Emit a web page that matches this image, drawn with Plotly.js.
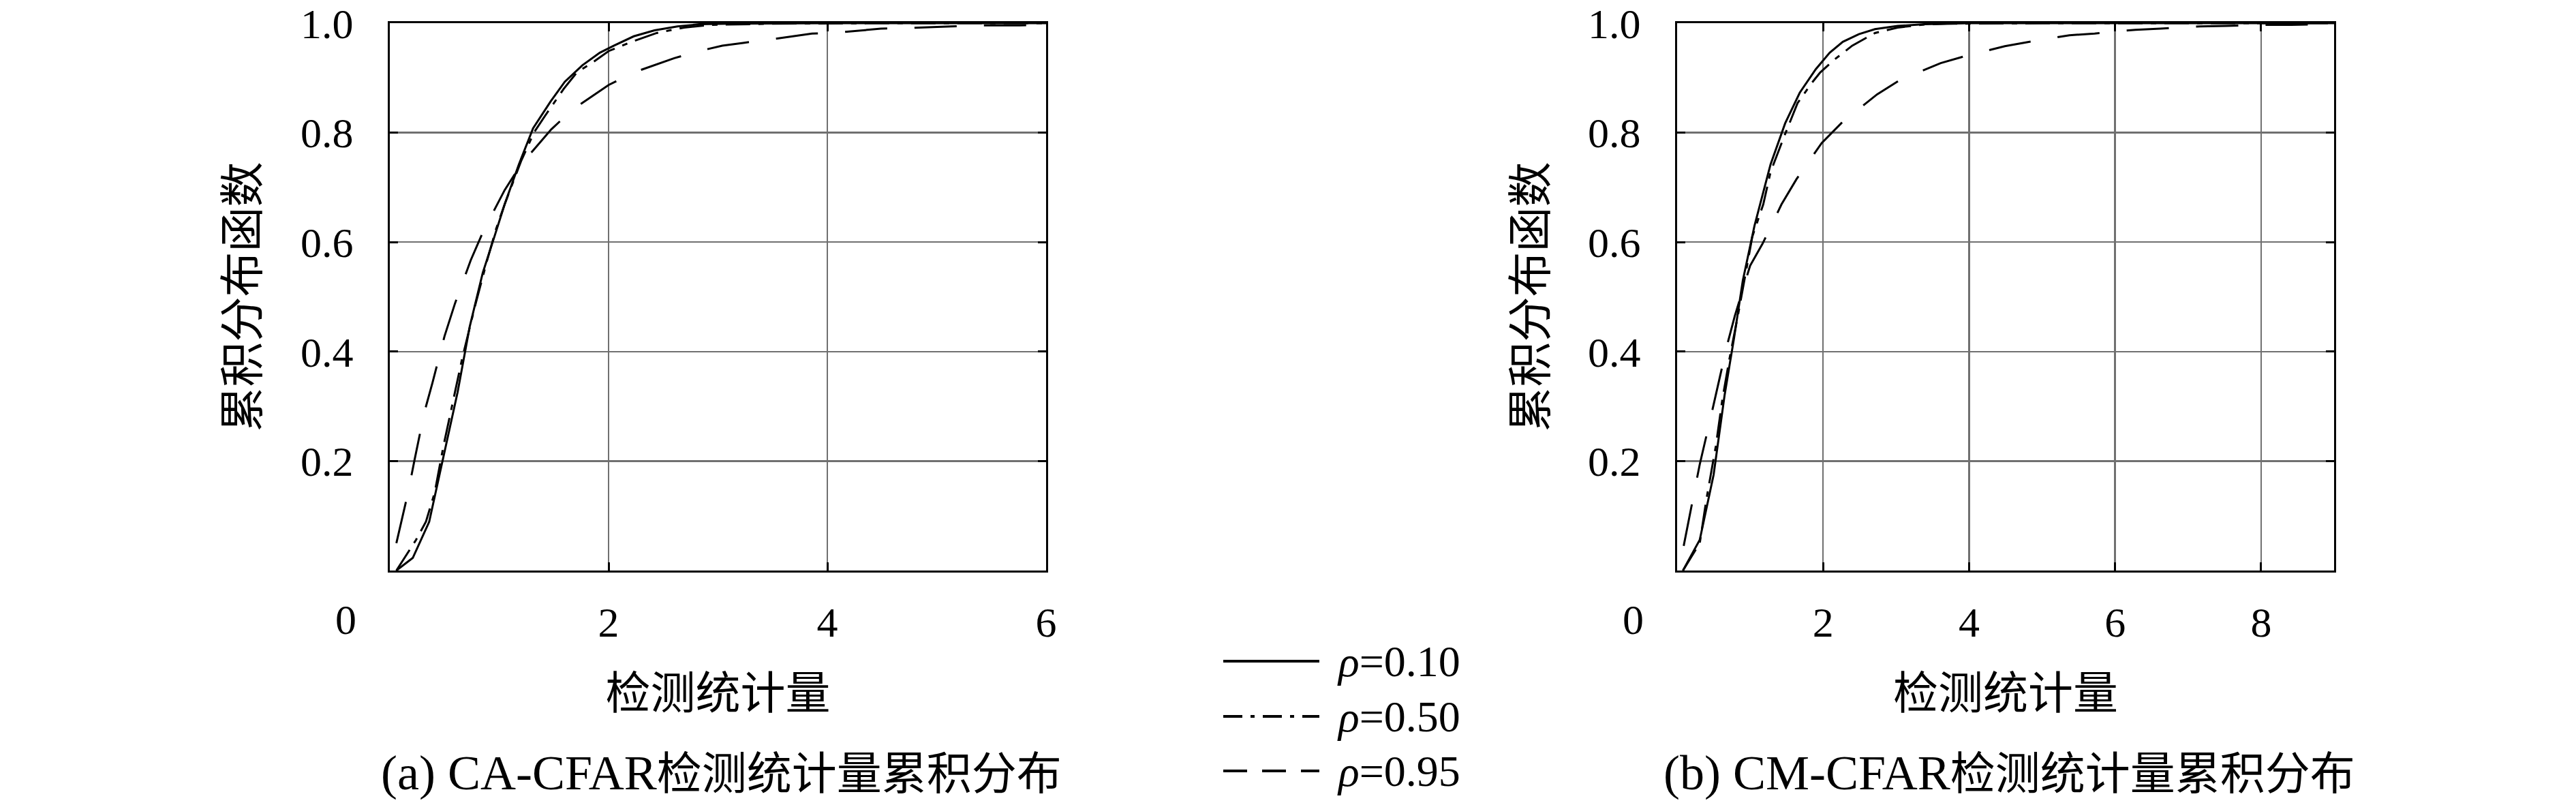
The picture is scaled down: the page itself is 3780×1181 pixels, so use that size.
<!DOCTYPE html>
<html>
<head>
<meta charset="utf-8">
<script src="https://cdn.plot.ly/plotly-3.0.1.min.js"></script>
<style>html,body{margin:0;padding:0;background:#fff;}#chart{width:3780px;height:1181px;}</style>
</head>
<body>
<div id="chart"></div>
<script>
// ---- Data ----
const seriesNames = ["ρ=0.10", "ρ=0.50", "ρ=0.95"];

// (a) CA-CFAR
const caX010 = [0.06, 0.21, 0.36, 0.48, 0.62, 0.73, 0.85, 0.95, 1.05, 1.18, 1.31, 1.47, 1.60, 1.76, 1.92, 2.05, 2.23, 2.42, 2.63, 2.83, 3.1, 4.0, 5.0, 6.0];
const caY010 = [0.0, 0.023, 0.089, 0.198, 0.326, 0.445, 0.544, 0.606, 0.669, 0.742, 0.808, 0.857, 0.893, 0.923, 0.946, 0.959, 0.976, 0.987, 0.994, 0.998, 0.999, 1.0, 1.0, 1.0];
const caX050 = [0.06, 0.24, 0.33, 0.41, 0.49, 0.555, 0.66, 0.78, 0.886, 0.97, 1.05, 1.20, 1.32, 1.42, 1.59, 1.71, 1.86, 2.0, 2.21, 2.44, 2.69, 2.94, 3.5, 4.5, 6.0];
const caY050 = [0.0, 0.056, 0.089, 0.142, 0.227, 0.287, 0.386, 0.484, 0.564, 0.623, 0.669, 0.748, 0.801, 0.831, 0.88, 0.91, 0.929, 0.949, 0.966, 0.982, 0.992, 0.997, 0.999, 1.0, 1.0];
const caX095 = [0.06, 0.17, 0.224, 0.317, 0.39, 0.50, 0.596, 0.74, 0.855, 1.05, 1.20, 1.476, 1.67, 2.0, 2.23, 2.60, 2.83, 3.04, 3.23, 3.47, 3.86, 4.10, 4.49, 4.73, 5.13, 5.37, 5.76, 6.0];
const caY095 = [0.05, 0.145, 0.20, 0.29, 0.343, 0.428, 0.488, 0.567, 0.62, 0.695, 0.742, 0.806, 0.842, 0.887, 0.91, 0.936, 0.949, 0.959, 0.964, 0.970, 0.981, 0.983, 0.99, 0.991, 0.994, 0.996, 0.996, 0.997];

// (b) CM-CFAR
const cmX010 = [0.08, 0.31, 0.50, 0.65, 0.78, 0.90, 1.06, 1.28, 1.48, 1.68, 1.90, 2.09, 2.27, 2.49, 2.71, 3.02, 3.39, 4.0, 6.0, 9.0];
const cmY010 = [0.0, 0.056, 0.175, 0.32, 0.425, 0.53, 0.63, 0.742, 0.817, 0.873, 0.916, 0.946, 0.966, 0.98, 0.989, 0.995, 0.998, 1.0, 1.0, 1.0];
const cmX050 = [0.08, 0.31, 0.40, 0.53, 0.62, 0.716, 0.84, 0.93, 1.03, 1.18, 1.28, 1.46, 1.65, 1.84, 1.96, 2.15, 2.40, 2.71, 3.02, 3.42, 3.7, 5.0, 9.0];
const cmY050 = [0.0, 0.05, 0.129, 0.227, 0.313, 0.386, 0.471, 0.537, 0.61, 0.669, 0.728, 0.791, 0.854, 0.89, 0.91, 0.933, 0.959, 0.982, 0.992, 0.998, 0.999, 1.0, 1.0];
const cmX095 = [0.09, 0.23, 0.31, 0.45, 0.545, 0.685, 0.79, 1.0, 1.17, 1.43, 1.635, 1.98, 2.27, 2.74, 3.05, 3.61, 3.95, 4.49, 4.83, 5.375, 5.72, 6.28, 6.62, 7.16, 7.52, 8.07, 8.41, 9.0];
const cmY095 = [0.045, 0.142, 0.194, 0.274, 0.33, 0.412, 0.465, 0.557, 0.597, 0.669, 0.715, 0.781, 0.82, 0.87, 0.896, 0.927, 0.94, 0.958, 0.966, 0.978, 0.981, 0.988, 0.99, 0.994, 0.995, 0.997, 0.997, 0.998];

// tick labels and texts
const caXTicks = [2, 4, 6];
const cmXTicks = [2, 4, 6, 8];
const yTicks = [0.2, 0.4, 0.6, 0.8, 1.0];
const yTickText = ["0.2", "0.4", "0.6", "0.8", "1.0"];
const xTitle = "检测统计量";
const yTitle = "累积分布函数";
const captionLatin = ["(a) CA-CFAR", "(b) CM-CFAR"];
const captionCJK = "检测统计量累积分布";

// ---- Styling ----
const FONT = "Liberation Serif, 'Noto Sans CJK SC', serif";
const dashes = ["solid", "36px,12px,8px,12px", "62px,40px"];
const legendDashes = ["solid", "28px,12px,6px,12px", "35px,22px"];
const W = 3780, H = 1181;

function mk(x, y, i, xa, ya) {
  return {x: x, y: y, type: "scatter", mode: "lines", name: seriesNames[i], showlegend: false,
          xaxis: xa, yaxis: ya, line: {color: "#000", width: 3, dash: dashes[i]}, hoverinfo: "skip"};
}

const traces = [
  mk(caX010, caY010, 0, "x", "y"), mk(caX050, caY050, 1, "x", "y"), mk(caX095, caY095, 2, "x", "y"),
  mk(cmX010, cmY010, 0, "x2", "y2"), mk(cmX050, cmY050, 1, "x2", "y2"), mk(cmX095, cmY095, 2, "x2", "y2")
];

const commonAxis = {
  showgrid: true, gridcolor: "#707070", gridwidth: 2.5,
  showline: true, linecolor: "#000", linewidth: 3, mirror: "allticks",
  ticks: "inside", ticklen: 12, tickwidth: 3, tickcolor: "#000",
  zeroline: false, tickfont: {family: FONT, size: 62, color: "#000"},
  fixedrange: true, automargin: false
};

const yDom = [1 - 837 / H, 1 - 34 / H];
const xDomA = [572 / W, 1535 / W];
const xDomB = [2461 / W, 3425 / W];

function xAxis(dom, range, ticks, anchor) {
  return Object.assign({}, commonAxis, {
    domain: dom, range: range, anchor: anchor, tickmode: "array", tickvals: ticks,
    ticktext: ticks.map(String), ticklabelstandoff: 20,
    title: {text: xTitle, font: {family: FONT, size: 66, color: "#000"}, standoff: 48}
  });
}
function yAxis(anchor) {
  return Object.assign({}, commonAxis, {
    domain: yDom, range: [0, 1], anchor: anchor, tickmode: "array", tickvals: yTicks,
    ticktext: yTickText, ticklabelstandoff: 38,
    title: {text: yTitle, font: {family: FONT, size: 66, color: "#000"}, standoff: 40}
  });
}

const annotations = [];
// corner "0" labels
[["x", "y"], ["x2", "y2"]].forEach(function (p) {
  annotations.push({xref: p[0], yref: p[1], x: 0, y: 0, text: "0", showarrow: false,
    xshift: -65, yshift: -72, font: {family: FONT, size: 62, color: "#000"}});
});
// captions
[xDomA, xDomB].forEach(function (d, i) {
  annotations.push({xref: "paper", yref: "paper", x: (d[0] + d[1]) / 2 + 5 / W, y: 1 - 1134 / H,
    xanchor: "center", yanchor: "middle",
    text: "<span style='font-size:72px'>" + captionLatin[i] + "</span>" + captionCJK, showarrow: false,
    font: {family: FONT, size: 66, color: "#000"}});
});

// manual legend
const legendY = [970, 1051, 1131];
const shapes = [];
seriesNames.forEach(function (n, i) {
  const yy = 1 - legendY[i] / H;
  shapes.push({type: "line", xref: "paper", yref: "paper", x0: 1795 / W, x1: 1936 / W, y0: yy, y1: yy,
    line: {color: "#000", width: 4, dash: legendDashes[i]}});
  annotations.push({xref: "paper", yref: "paper", x: 1960 / W, y: yy, xanchor: "left", yanchor: "middle",
    text: "<i>ρ</i>=" + n.split("=")[1], showarrow: false, font: {family: FONT, size: 64, color: "#000"}});
});

const layout = {
  width: W, height: H, margin: {l: 0, r: 0, t: 0, b: 0},
  paper_bgcolor: "#fff", plot_bgcolor: "#fff", showlegend: false,
  font: {family: FONT, color: "#000"},
  xaxis: xAxis(xDomA, [0, 6], caXTicks, "y"),
  yaxis: yAxis("x"),
  xaxis2: xAxis(xDomB, [0, 9], cmXTicks, "y2"),
  yaxis2: yAxis("x2"),
  annotations: annotations, shapes: shapes
};

Plotly.newPlot("chart", traces, layout, {staticPlot: true, displayModeBar: false});
</script>
</body>
</html>
